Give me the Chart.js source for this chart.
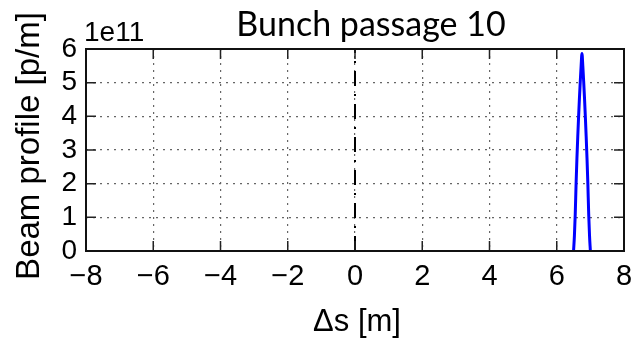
<!DOCTYPE html>
<html>
<head>
<meta charset="utf-8">
<script src="https://cdn.jsdelivr.net/npm/chart.js@4/dist/chart.umd.min.js"></script>
<style>
  html, body { margin: 0; padding: 0; background: #fff; }
  canvas { display: block; }
</style>
</head>
<body>
<canvas id="c" width="634" height="338"></canvas>
<script>
// Longitudinal position of the bunch samples [m]
const profileS = [6.50, 6.525, 6.55, 6.575, 6.60, 6.625, 6.65, 6.675, 6.70, 6.725, 6.75,
                  6.775, 6.80, 6.825, 6.85, 6.875, 6.90, 6.925, 6.95, 6.975, 7.00];
// Line density at each sample, in units of 1e11 particles per metre
const profileDensity = [0.0, 0.45, 1.1, 2.0, 2.75, 3.4, 4.0, 4.55, 5.05, 5.5, 5.87,
                        5.5, 5.05, 4.55, 4.0, 3.4, 2.75, 2.0, 1.1, 0.45, 0.0];
// Reference position (dash-dot marker)
const markerS = [0, 0];
const markerDensity = [0, 6];
// Axis tick values
const sTicks = [-8, -6, -4, -2, 0, 2, 4, 6, 8];
const densityTicks = [0, 1, 2, 3, 4, 5, 6];

const titleText = 'Bunch passage 10';
const xTitle = '\u0394s [m]';
const yTitle = 'Beam profile [p/m]';
const exponentText = '1e11';

const FONT = '"Liberation Sans", Arial, sans-serif';

const toPoints = (xs, ys) => xs.map((x, i) => ({ x, y: ys[i] }));
const minus = v => (v < 0 ? '\u2212' + Math.abs(v) : String(v));

// Frame, inward tick marks and text decorations around the axes
const decorations = {
  id: 'decorations',
  afterDatasetsDraw(chart) {
    const { ctx, chartArea: a, scales } = chart;
    ctx.save();
    // inward ticks
    ctx.strokeStyle = '#222';
    ctx.lineWidth = 1.5;
    const len = 10;
    ctx.beginPath();
    sTicks.forEach(v => {
      const px = scales.x.getPixelForValue(v);
      ctx.moveTo(px, a.bottom); ctx.lineTo(px, a.bottom - len);
      ctx.moveTo(px, a.top); ctx.lineTo(px, a.top + len);
    });
    densityTicks.forEach(v => {
      const py = scales.y.getPixelForValue(v);
      ctx.moveTo(a.left, py); ctx.lineTo(a.left + len, py);
      ctx.moveTo(a.right, py); ctx.lineTo(a.right - len, py);
    });
    ctx.stroke();
    // box
    ctx.strokeStyle = '#111';
    ctx.lineWidth = 2;
    ctx.strokeRect(a.left, a.top, a.right - a.left, a.bottom - a.top);

    ctx.fillStyle = '#000';
    // exponent
    ctx.font = '28px ' + FONT;
    ctx.textAlign = 'left';
    ctx.textBaseline = 'alphabetic';
    ctx.fillText(exponentText, a.left - 2, a.top - 8);
    // title
    ctx.font = '34px Lato, "Open Sans", sans-serif';
    ctx.textAlign = 'center';
    ctx.fillText(titleText, 371, 36);
    // x-axis title
    ctx.font = '31px ' + FONT;
    ctx.fillText(xTitle, 357, 331);
    // y-axis title
    ctx.translate(39, 146);
    ctx.rotate(-Math.PI / 2);
    ctx.font = '33px ' + FONT;
    ctx.fillText(yTitle, 0, 0);
    ctx.restore();
  }
};

new Chart(document.getElementById('c'), {
  type: 'line',
  data: {
    datasets: [
      {
        data: toPoints(profileS, profileDensity),
        borderColor: '#0000ff',
        borderWidth: 3,
        pointRadius: 0,
        fill: false,
        cubicInterpolationMode: 'monotone'
      },
      {
        data: toPoints(markerS, markerDensity),
        borderColor: '#000',
        borderWidth: 2,
        borderDash: [15, 8, 2, 8],
        pointRadius: 0,
        fill: false
      }
    ]
  },
  options: {
    responsive: false,
    devicePixelRatio: 1,
    animation: false,
    events: [],
    layout: { padding: { left: 0, right: 10, top: 49, bottom: 0 } },
    plugins: { legend: { display: false }, tooltip: { enabled: false }, title: { display: false } },
    scales: {
      x: {
        type: 'linear',
        min: -8, max: 8,
        afterBuildTicks: s => { s.ticks = sTicks.map(v => ({ value: v })); },
        afterFit: s => { s.height = 87; s.paddingLeft = 0; s.paddingRight = 0; },
        grid: { color: '#666', lineWidth: 1.2, drawTicks: false },
        border: { display: false, dash: [2, 5] },
        ticks: {
          padding: 9,
          autoSkip: false,
          color: '#000',
          font: { family: FONT, size: 29 },
          maxRotation: 0,
          callback: v => minus(v)
        }
      },
      y: {
        type: 'linear',
        min: 0, max: 6,
        afterBuildTicks: s => { s.ticks = densityTicks.map(v => ({ value: v })); },
        afterFit: s => { s.width = 86; s.paddingTop = 0; s.paddingBottom = 0; },
        grid: { color: '#666', lineWidth: 1.2, drawTicks: false },
        border: { display: false, dash: [2, 5] },
        ticks: {
          padding: 9,
          autoSkip: false,
          color: '#000',
          font: { family: FONT, size: 28 },
          callback: v => minus(v)
        }
      }
    }
  },
  plugins: [decorations]
});
</script>
</body>
</html>
